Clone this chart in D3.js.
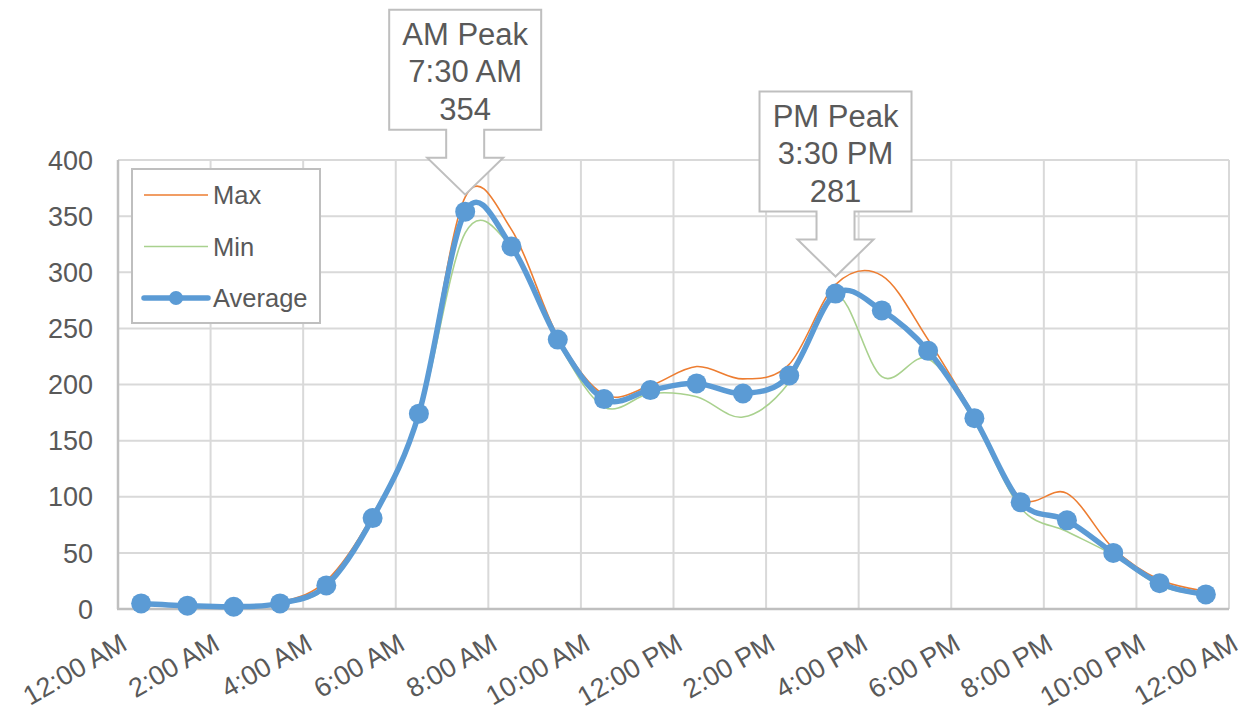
<!DOCTYPE html>
<html>
<head>
<meta charset="utf-8">
<script src="https://cdn.jsdelivr.net/npm/d3@7"></script>
<style>
  body { margin: 0; background: #fff; }
  text { font-family: "Liberation Sans", Arial, sans-serif; fill: #595959; }
</style>
</head>
<body>
<div id="chart"></div>
<script>
// hour of day (half-hour bins)
var hours = [0.5, 1.5, 2.5, 3.5, 4.5, 5.5, 6.5, 7.5, 8.5, 9.5, 10.5, 11.5,
             12.5, 13.5, 14.5, 15.5, 16.5, 17.5, 18.5, 19.5, 20.5, 21.5, 22.5, 23.5];
var maxVals = [6, 4, 3, 6, 25, 84, 176, 367, 338, 243, 191, 199,
               216, 205, 218, 289, 297, 240, 172, 99, 103, 54, 26, 16];
var minVals = [4, 2, 1, 4, 19, 79, 171, 335, 322, 238, 180, 192,
               189, 171, 202, 280, 207, 223, 167, 90, 69, 48, 21, 12];
var avgVals = [5, 3, 2, 5, 21, 81, 174, 354, 323, 240, 187, 195,
               201, 192, 208, 281, 266, 230, 170, 95, 79, 50, 23, 13];
var xTicks = [0, 2, 4, 6, 8, 10, 12, 14, 16, 18, 20, 22, 24];
var xTickLabels = ['12:00 AM', '2:00 AM', '4:00 AM', '6:00 AM', '8:00 AM', '10:00 AM', '12:00 PM',
                   '2:00 PM', '4:00 PM', '6:00 PM', '8:00 PM', '10:00 PM', '12:00 AM'];
var yTicks = [0, 50, 100, 150, 200, 250, 300, 350, 400];
var peaks = [
  { name: 'AM Peak', time: '7:30 AM', hour: 7.5, value: 354 },
  { name: 'PM Peak', time: '3:30 PM', hour: 15.5, value: 281 }
];

(function(){
  'use strict';

  var width = 1244, height = 713;
  var svg = d3.select('#chart').append('svg')
    .attr('width', width).attr('height', height);

  var x = d3.scaleLinear().domain([0, 24]).range([118, 1229]);
  var y = d3.scaleLinear().domain([0, 400]).range([609, 160]);

  //---- grid
  svg.append('g').selectAll('line.hgrid')
    .data(yTicks.slice(1)).enter()
    .append('line')
    .attr('x1', x(0)).attr('x2', x(24))
    .attr('y1', function(d){ return y(d); })
    .attr('y2', function(d){ return y(d); })
    .attr('stroke', '#d9d9d9').attr('stroke-width', 2);

  svg.append('g').selectAll('line.vgrid')
    .data(xTicks.slice(1)).enter()
    .append('line')
    .attr('x1', function(d){ return x(d); })
    .attr('x2', function(d){ return x(d); })
    .attr('y1', y(400)).attr('y2', y(0))
    .attr('stroke', '#d9d9d9').attr('stroke-width', 2);

  // axis lines
  svg.append('line')
    .attr('x1', x(0)).attr('x2', x(0)).attr('y1', y(400)).attr('y2', y(0))
    .attr('stroke', '#bfbfbf').attr('stroke-width', 2.5);
  svg.append('line')
    .attr('x1', x(0) - 1).attr('x2', x(24)).attr('y1', y(0)).attr('y2', y(0))
    .attr('stroke', '#bfbfbf').attr('stroke-width', 2.5);

  //---- tick labels
  svg.append('g').selectAll('text.ylab')
    .data(yTicks).enter()
    .append('text')
    .attr('x', 93)
    .attr('y', function(d){ return y(d); })
    .attr('dy', '0.36em')
    .attr('text-anchor', 'end')
    .style('font-size', '27px')
    .text(function(d){ return d; });

  svg.append('g').selectAll('text.xlab')
    .data(xTicks).enter()
    .append('text')
    .attr('transform', function(d){ return 'translate(' + (x(d) + 1) + ',632) rotate(-30)'; })
    .attr('dy', '0.72em')
    .attr('text-anchor', 'end')
    .style('font-size', '27px')
    .text(function(d, i){ return xTickLabels[i]; });

  //---- lines
  var line = function(vals) {
    return d3.line()
      .x(function(d, i){ return x(hours[i]); })
      .y(function(d){ return y(d); })
      .curve(d3.curveCardinal.tension(0))(vals);
  };

  svg.append('path').attr('d', line(maxVals))
    .attr('fill', 'none').attr('stroke', '#ed7d31').attr('stroke-width', 1.6);
  svg.append('path').attr('d', line(minVals))
    .attr('fill', 'none').attr('stroke', '#a9d18e').attr('stroke-width', 1.6);
  svg.append('path').attr('d', line(avgVals))
    .attr('fill', 'none').attr('stroke', '#5b9bd5').attr('stroke-width', 5.5)
    .attr('stroke-linejoin', 'round');

  svg.append('g').selectAll('circle.avg')
    .data(avgVals).enter()
    .append('circle')
    .attr('cx', function(d, i){ return x(hours[i]); })
    .attr('cy', function(d){ return y(d); })
    .attr('r', 10)
    .attr('fill', '#5b9bd5');

  //---- legend
  var legend = svg.append('g');
  legend.append('rect')
    .attr('x', 132).attr('y', 169).attr('width', 188).attr('height', 154)
    .attr('fill', '#fff').attr('stroke', '#bfbfbf').attr('stroke-width', 2);
  var legendItems = [
    { name: 'Max', color: '#ed7d31', w: 1.6, marker: false },
    { name: 'Min', color: '#a9d18e', w: 1.6, marker: false },
    { name: 'Average', color: '#5b9bd5', w: 5.5, marker: true }
  ];
  legendItems.forEach(function(item, i){
    var ly = 195 + i * 51.5;
    legend.append('line')
      .attr('x1', 144).attr('x2', 208).attr('y1', ly).attr('y2', ly)
      .attr('stroke', item.color).attr('stroke-width', item.w)
      .attr('stroke-linecap', item.marker ? 'round' : 'butt');
    if (item.marker) {
      legend.append('circle').attr('cx', 176).attr('cy', ly).attr('r', 7).attr('fill', item.color);
    }
    legend.append('text')
      .attr('x', 213).attr('y', ly).attr('dy', '0.36em')
      .style('font-size', '25.5px')
      .text(item.name);
  });

  //---- peak callouts
  peaks.forEach(function(p){
    var tx = x(p.hour), ty = y(p.value) - 17;
    var headH = 37, headW = 38, stemH = 28, stemW = 19, boxW = 76, boxH = 120;
    var top = ty - headH - stemH - boxH;
    var pts = [
      [tx, ty],
      [tx - headW, ty - headH],
      [tx - stemW, ty - headH],
      [tx - stemW, ty - headH - stemH],
      [tx - boxW, ty - headH - stemH],
      [tx - boxW, top],
      [tx + boxW, top],
      [tx + boxW, ty - headH - stemH],
      [tx + stemW, ty - headH - stemH],
      [tx + stemW, ty - headH],
      [tx + headW, ty - headH]
    ];
    svg.append('path')
      .attr('d', 'M' + pts.join('L') + 'Z')
      .attr('fill', '#fff').attr('stroke', '#bfbfbf').attr('stroke-width', 2);
    [p.name, p.time, p.value].forEach(function(t, j){
      svg.append('text')
        .attr('x', tx).attr('y', top + 24 + j * 37.5)
        .attr('dy', '0.36em')
        .attr('text-anchor', 'middle')
        .style('font-size', '31px')
        .text(t);
    });
  });
})();
</script>
</body>
</html>
